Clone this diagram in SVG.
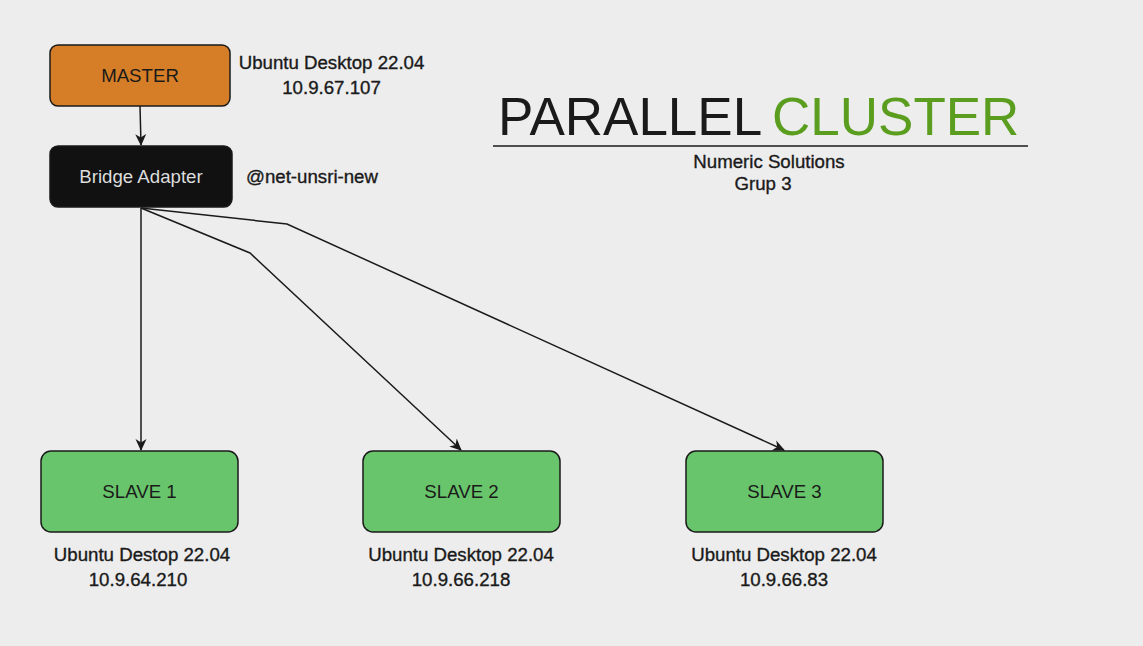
<svg xmlns="http://www.w3.org/2000/svg" width="1143" height="646" viewBox="0 0 1143 646">
<style>
text{font-family:"Liberation Sans",Arial,sans-serif;font-size:18.67px;fill:#1a1a1a}
.lbl{stroke:#1a1a1a;stroke-width:0.35}
.box{stroke:#1a1a1a;stroke-width:1.5}
.slave{fill:#69C56C}
.c{text-anchor:middle}
.edge{fill:none;stroke:#1a1a1a;stroke-width:1.5}
</style>
<defs>
<marker id="arr" viewBox="0 0 12 12" refX="11" refY="6" markerWidth="12" markerHeight="12" markerUnits="userSpaceOnUse" orient="auto">
<path d="M0,0.5 L12,6 L0,11.5 L3.5,6 z" fill="#1a1a1a"/>
</marker>
</defs>
<rect width="1143" height="646" fill="#EDEDED"/>
<g id="connectors">
<path class="edge" d="M140,106 L141,145" marker-end="url(#arr)"/>
<path class="edge" d="M141,208 L141,450" marker-end="url(#arr)"/>
<path class="edge" d="M141,208 L250,253 L461,450" marker-end="url(#arr)"/>
<path class="edge" d="M141,208 L287,224 L784,450" marker-end="url(#arr)"/>
</g>
<g id="master">
<rect class="box" x="50" y="45" width="180" height="61" rx="8" fill="#D57E27"/>
<text class="c" x="140" y="82">MASTER</text>
</g>
<g id="master-label">
<text class="c lbl" x="331.5" y="69">Ubuntu Desktop 22.04</text>
<text class="c lbl" x="331.5" y="93.5">10.9.67.107</text>
</g>
<g id="bridge">
<rect class="box" x="50" y="146" width="182" height="61" rx="8" fill="#111111"/>
<text class="c" x="141" y="183" style="fill:#dddddd">Bridge Adapter</text>
</g>
<g id="bridge-label">
<text class="lbl" x="246" y="183">@net-unsri-new</text>
</g>
<g id="title">
<text x="498" y="135" style="font-size:53px">PARALLEL<tspan x="772" style="fill:#5B9E1F">CLUSTER</tspan></text>
<line x1="493" y1="146" x2="1028" y2="146" stroke="#1a1a1a" stroke-width="1.5"/>
<text class="c lbl" x="769" y="168">Numeric Solutions</text>
<text class="c lbl" x="763" y="190">Grup 3</text>
</g>
<g id="slave1">
<rect class="box slave" x="41" y="451" width="197" height="81" rx="10"/>
<text class="c" x="139.5" y="498">SLAVE 1</text>
<text class="c lbl" x="142" y="560.5">Ubuntu Destop 22.04</text>
<text class="c lbl" x="138" y="585.5">10.9.64.210</text>
</g>
<g id="slave2">
<rect class="box slave" x="363" y="451" width="197" height="81" rx="10"/>
<text class="c" x="461.5" y="498">SLAVE 2</text>
<text class="c lbl" x="461" y="560.5">Ubuntu Desktop 22.04</text>
<text class="c lbl" x="461" y="585.5">10.9.66.218</text>
</g>
<g id="slave3">
<rect class="box slave" x="686" y="451" width="197" height="81" rx="10"/>
<text class="c" x="784.5" y="498">SLAVE 3</text>
<text class="c lbl" x="784" y="560.5">Ubuntu Desktop 22.04</text>
<text class="c lbl" x="784" y="585.5">10.9.66.83</text>
</g>
</svg>
